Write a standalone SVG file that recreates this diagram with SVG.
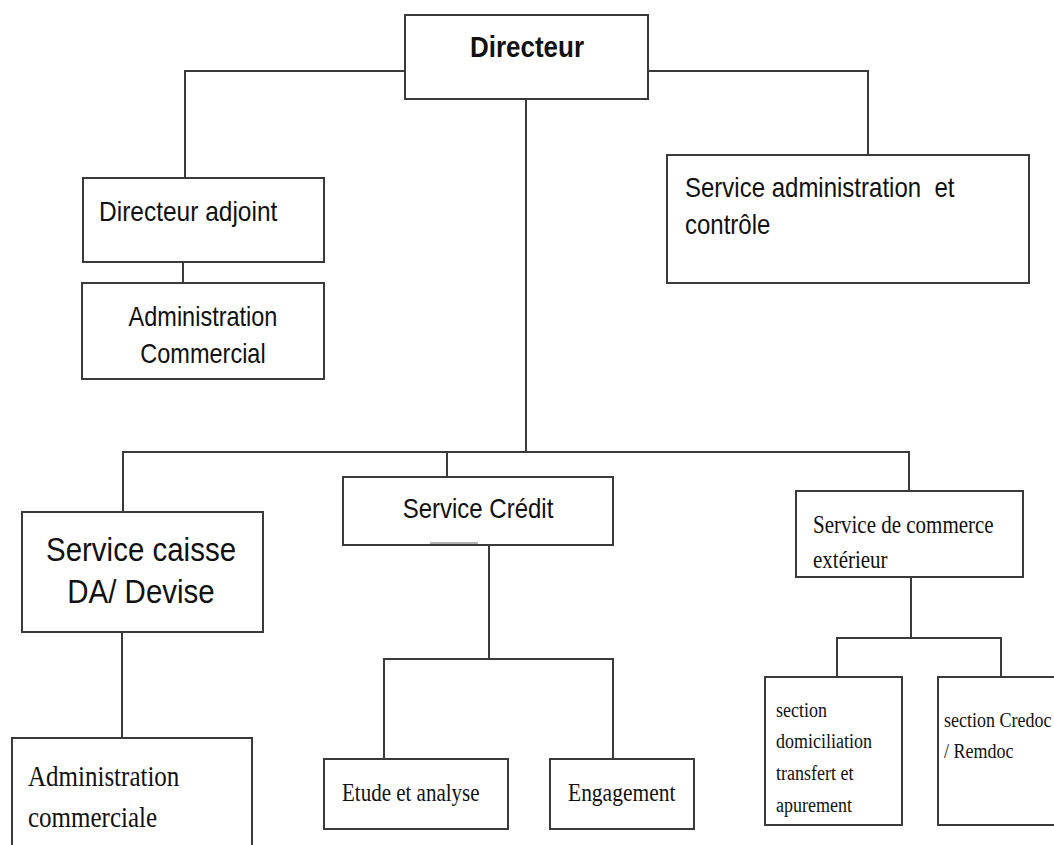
<svg xmlns="http://www.w3.org/2000/svg" width="1054" height="845" viewBox="0 0 1054 845">
<style>
.box{fill:#fff;stroke:#3a3a3a;stroke-width:2}
.ln{fill:none;stroke:#3a3a3a;stroke-width:2}
.sans{font-family:"Liberation Sans",Arial,sans-serif;fill:#111}
.serif{font-family:"Liberation Serif","Times New Roman",serif;fill:#111}
</style>
<rect width="1054" height="845" fill="#fff"/>
<g id="connectors">
<path class="ln" d="M185 178V71H868V155"/>
<path class="ln" d="M526 99V452"/>
<path class="ln" d="M183 262V283"/>
<path class="ln" d="M123 512V452H909V491"/>
<path class="ln" d="M447 452V477"/>
<path class="ln" d="M122 632V738"/>
<path class="ln" d="M489 545V659"/>
<path class="ln" d="M384 759V659H613V759"/>
<path class="ln" d="M911 577V638"/>
<path class="ln" d="M837 677V638H1001V677"/>
</g>
<g id="directeur">
<rect class="box" x="405" y="15" width="243" height="84"/>
<text class="sans" transform="translate(527 57) scale(1 1.15)" font-size="26" font-weight="bold" text-anchor="middle">Directeur</text>
</g>
<g id="directeur-adjoint">
<rect class="box" x="83" y="178" width="241" height="84"/>
<text class="sans" transform="translate(99 221) scale(1 1.15)" font-size="24.5">Directeur adjoint</text>
</g>
<g id="administration-commercial">
<rect class="box" x="82" y="283" width="242" height="96"/>
<text class="sans" transform="translate(203 326) scale(1 1.15)" font-size="23.5" text-anchor="middle">Administration</text>
<text class="sans" transform="translate(203 363) scale(1 1.15)" font-size="23.5" text-anchor="middle">Commercial</text>
</g>
<g id="service-administration">
<rect class="box" x="667" y="155" width="362" height="128"/>
<text class="sans" transform="translate(685 197) scale(1 1.15)" font-size="24" xml:space="preserve" style="white-space:pre">Service administration  et</text>
<text class="sans" transform="translate(685 234) scale(1 1.15)" font-size="24">contrôle</text>
</g>
<g id="service-caisse">
<rect class="box" x="22" y="512" width="241" height="120"/>
<text class="sans" transform="translate(141 561) scale(1 1.15)" font-size="29.5" text-anchor="middle">Service caisse</text>
<text class="sans" transform="translate(141 603) scale(1 1.15)" font-size="29.5" text-anchor="middle">DA/ Devise</text>
</g>
<g id="service-credit">
<rect class="box" x="343" y="477" width="270" height="68"/>
<line x1="430" y1="543" x2="478" y2="543" stroke="#9a9a9a" stroke-width="1.5"/>
<text class="sans" transform="translate(478 518) scale(1 1.15)" font-size="24" text-anchor="middle">Service Crédit</text>
</g>
<g id="service-commerce">
<rect class="box" x="796" y="491" width="227" height="86"/>
<text class="serif" transform="translate(813 533) scale(1 1.2)" font-size="21">Service de commerce</text>
<text class="serif" transform="translate(813 568) scale(1 1.2)" font-size="21">extérieur</text>
</g>
<g id="administration-commerciale">
<rect class="box" x="12" y="738" width="240" height="120"/>
<text class="serif" transform="translate(28 786) scale(1 1.2)" font-size="25">Administration</text>
<text class="serif" transform="translate(28 827) scale(1 1.2)" font-size="25">commerciale</text>
</g>
<g id="etude-analyse">
<rect class="box" x="324" y="759" width="184" height="70"/>
<text class="serif" transform="translate(342 801) scale(1 1.2)" font-size="21">Etude et analyse</text>
</g>
<g id="engagement">
<rect class="box" x="550" y="759" width="144" height="70"/>
<text class="serif" transform="translate(568 801) scale(1 1.2)" font-size="21.5">Engagement</text>
</g>
<g id="section-domiciliation">
<rect class="box" x="765" y="677" width="137" height="148"/>
<text class="serif" transform="translate(776 717) scale(1 1.2)" font-size="18">section</text>
<text class="serif" transform="translate(776 748) scale(1 1.2)" font-size="18">domiciliation</text>
<text class="serif" transform="translate(776 780) scale(1 1.2)" font-size="18">transfert et</text>
<text class="serif" transform="translate(776 812) scale(1 1.2)" font-size="18">apurement</text>
</g>
<g id="section-credoc">
<rect class="box" x="938" y="677" width="140" height="148"/>
<text class="serif" transform="translate(944 727) scale(1 1.2)" font-size="18">section Credoc</text>
<text class="serif" transform="translate(944 758) scale(1 1.2)" font-size="18">/ Remdoc</text>
</g>
</svg>
